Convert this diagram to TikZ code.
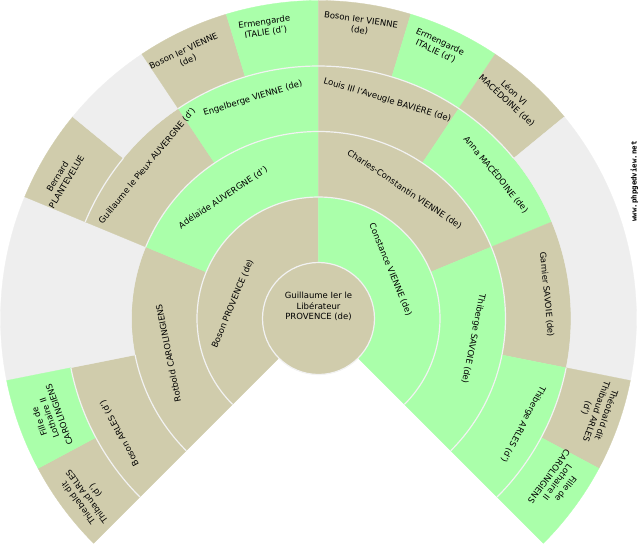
\documentclass[tikz,border=0pt]{standalone}
\usepackage{fontspec}
\setmainfont{DejaVu Sans}
\newfontfamily\wmfont{DejaVu Sans Mono}
\definecolor{man}{HTML}{D0CCAC}
\definecolor{woman}{HTML}{AAFFAA}
\definecolor{unk}{HTML}{EEEEEE}
\definecolor{sepc}{HTML}{F2F2F2}
\tikzset{
  lbl/.style={font=\fontsize{8.5}{10.5}\selectfont, align=center, inner sep=0pt, text=black},
  sepline/.style={draw=sepc, line width=1.2pt},
  wmark/.style={font=\wmfont\bfseries\fontsize{7.4}{8}\selectfont, inner sep=0pt, text=black, rotate=90},
}
\newcommand\fansector[5]{%
  \filldraw[fill=#5, draw=#5, line width=0.3pt] (#1:#3pt) arc[start angle=#1, end angle=#2, radius=#3pt] -- (#2:#4pt) arc[start angle=#2, end angle=#1, radius=#4pt] -- cycle;}
\newcommand\fansep[3]{\draw[sepline] (#1:#3pt) arc[start angle=#1, end angle=#2, radius=#3pt];}
\begin{document}
\begin{tikzpicture}[x=1pt,y=1pt]
\useasboundingbox (-318.5,-231.5) rectangle (321.5,318.5);
% ring 1
\fansector{90}{225}{56}{121.5}{man}
\fansector{-45}{90}{56}{121.5}{woman}
% ring 2
\fansector{157.5}{225}{121.5}{187}{man}
\fansector{90}{157.5}{121.5}{187}{woman}
\fansector{22.5}{90}{121.5}{187}{man}
\fansector{-45}{22.5}{121.5}{187}{woman}
% ring 3
\fansector{191.25}{225}{187}{252.5}{man}
\fansector{157.5}{191.25}{187}{318}{unk}
\fansector{123.75}{157.5}{187}{252.5}{man}
\fansector{90}{123.75}{187}{252.5}{woman}
\fansector{56.25}{90}{187}{252.5}{man}
\fansector{22.5}{56.25}{187}{252.5}{woman}
\fansector{-11.25}{22.5}{187}{252.5}{man}
\fansector{-45}{-11.25}{187}{252.5}{woman}
% ring 4
\fansector{208.125}{225}{252.5}{318}{man}
\fansector{191.25}{208.125}{252.5}{318}{woman}
\fansector{140.625}{157.5}{252.5}{318}{man}
\fansector{123.75}{140.625}{252.5}{318}{unk}
\fansector{106.875}{123.75}{252.5}{318}{man}
\fansector{90}{106.875}{252.5}{318}{woman}
\fansector{73.125}{90}{252.5}{318}{man}
\fansector{56.25}{73.125}{252.5}{318}{woman}
\fansector{39.375}{56.25}{252.5}{318}{man}
\fansector{-11.25}{39.375}{252.5}{318}{unk}
\fansector{-28.125}{-11.25}{252.5}{318}{man}
\fansector{-45}{-28.125}{252.5}{318}{woman}
% centre
\filldraw[fill=man, sepline] (0,0) circle[radius=56pt];
% separators
\fansep{-45}{225}{121.5}
\fansep{191.25}{225}{187}
\fansep{-45}{157.5}{187}
\fansep{191.25}{225}{252.5}
\fansep{140.625}{157.5}{252.5}
\fansep{39.375}{123.75}{252.5}
\fansep{-45}{-11.25}{252.5}
% labels
\node[lbl] (p1) at (0,12) {Guillaume Ier le\\Libérateur\\PROVENCE (de)};
\node[lbl, rotate=67.5] (p2) at (170.4:87pt) {Boson PROVENCE (de)};
\node[lbl, rotate=-67.5] (p3) at (34.2:87pt) {Constance VIENNE (de)};
\node[lbl, rotate=101.25] (p4) at (193:154pt) {Rotbold CAROLINGIENS};
\node[lbl, rotate=33.75] (p5) at (128.3:154pt) {Adélaïde AUVERGNE (d')};
\node[lbl, rotate=-33.75] (p6) at (56.3:155pt) {Charles-Constantin VIENNE (de)};
\node[lbl, rotate=-101.25] (p7) at (-7.5:156pt) {Thiberge SAVOIE (de)};
\node[lbl, rotate=118.125] (p8) at (209.9:229.5pt) {Boson ARLES (d')};
\node[lbl, rotate=50.625] (p10) at (138.3:229.5pt) {Guillaume le Pieux AUVERGNE (d')};
\node[lbl, rotate=16.875] (p11) at (106.6:229.5pt) {Engelberge VIENNE (de)};
\node[lbl, rotate=-16.875] (p12) at (72.5:229.5pt) {Louis III l'Aveugle BAVIÈRE (de)};
\node[lbl, rotate=-50.625] (p13) at (39.05:229pt) {Anna MACÉDOINE (de)};
\node[lbl, rotate=-84.375] (p14) at (6:229.5pt) {Garnier SAVOIE (de)};
\node[lbl, rotate=-118.125] (p15) at (-27.3:230pt) {Thiberge ARLES (d')};
\node[lbl, rotate=126.6] (p16) at (217.6:292pt) {Thiebald dit\\Thibaud ARLES\\(d')};
\node[lbl, rotate=109.7] (p17) at (200.3:287pt) {Fille de\\Lothaire II\\CAROLINGIENS};
\node[lbl, rotate=59] (p20) at (151.5:292pt) {Bernard\\PLANTEVELUE};
\node[lbl, rotate=25.3] (p22) at (116.8:294pt) {Boson Ier VIENNE\\(de)};
\node[lbl, rotate=8.4] (p23) at (100.4:296pt) {Ermengarde\\ITALIE (d')};
\node[lbl, rotate=-8.4] (p24) at (81.9:296pt) {Boson Ier VIENNE\\(de)};
\node[lbl, rotate=-25.3] (p25) at (66.3:297pt) {Ermengarde\\ITALIE (d')};
\node[lbl, rotate=-42.2] (p26) at (49.1:293pt) {Léon VI\\MACÉDOINE (de)};
\node[lbl, rotate=-109.7] (p30) at (-18.5:293pt) {Théobald dit\\Thibaud ARLES\\(d')};
\node[lbl, rotate=-126.6] (p31) at (-34.5:290pt) {Fille de\\Lothaire II\\CAROLINGIENS};
\node[wmark] (wm) at (316,137) {www.phpgedview.net};
\end{tikzpicture}
\end{document}
